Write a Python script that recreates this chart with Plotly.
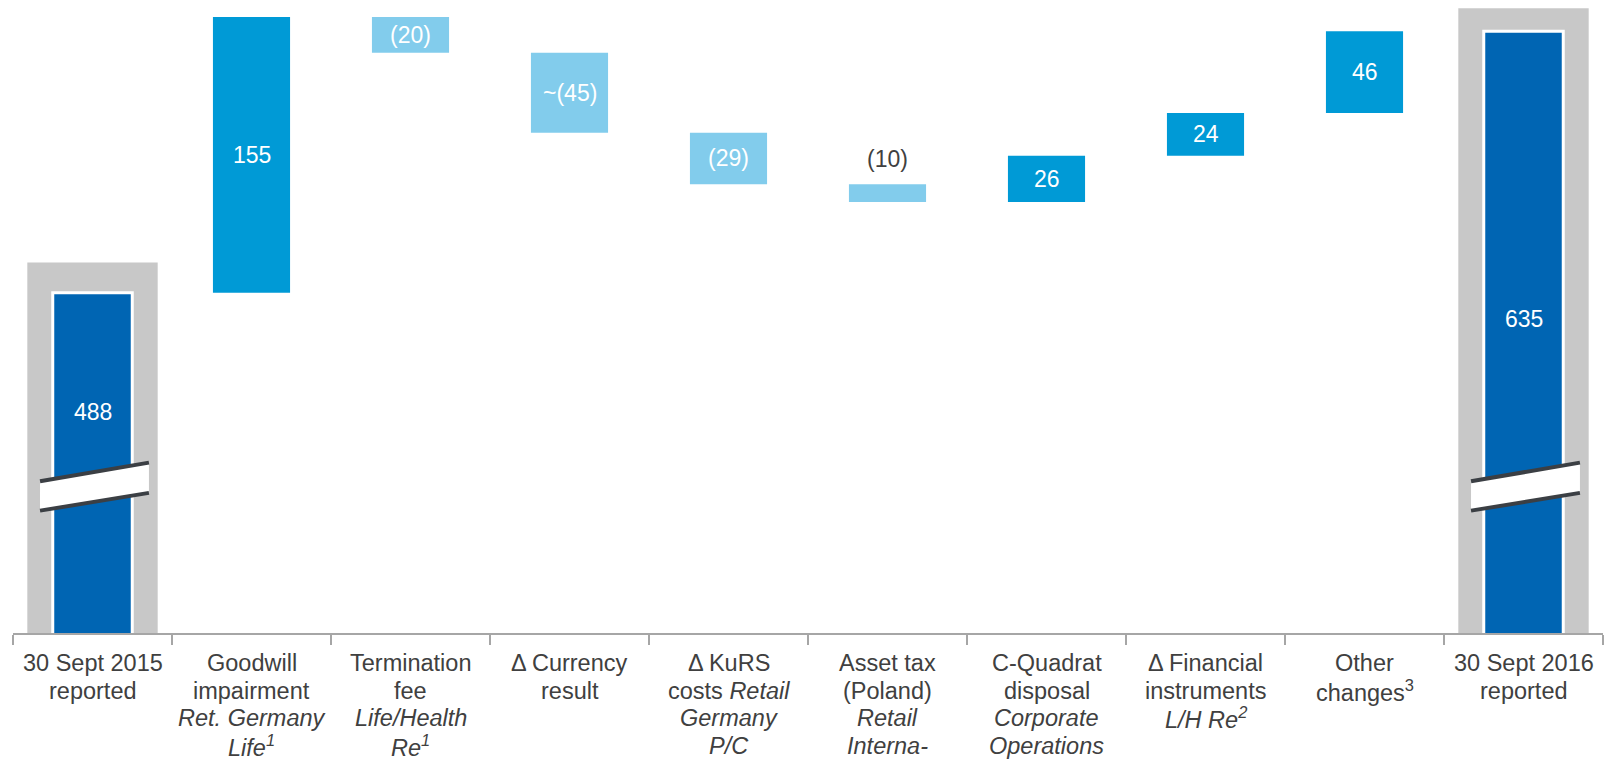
import plotly.graph_objects as go

# ---------------- data ----------------
D = "\u0394"
category_lines = [
    ["30 Sept 2015", "reported"],
    ["Goodwill", "impairment", "<i>Ret. Germany</i>", "<i>Life<sup>1</sup></i>"],
    ["Termination", "fee", "<i>Life/Health</i>", "<i>Re<sup>1</sup></i>"],
    [D + " Currency", "result"],
    [D + " KuRS", "costs <i>Retail</i>", "<i>Germany</i>", "<i>P/C</i>"],
    ["Asset tax", "(Poland)", "<i>Retail</i>", "<i>Interna-</i>"],
    ["C-Quadrat", "disposal", "<i>Corporate</i>", "<i>Operations</i>"],
    [D + " Financial", "instruments", "<i>L/H Re<sup>2</sup></i>"],
    ["Other", "changes<sup>3</sup>"],
    ["30 Sept 2016", "reported"],
]
start_total = 488
deltas = [155, -20, -45, -29, -10, 26, 24, 46]
end_total = 635
delta_labels = ["155", "(20)", "~(45)", "(29)", "(10)", "26", "24", "46"]
total_labels = ["488", "635"]

# ---------------- style ----------------
C_TOTAL = "#0065B3"
C_POS = "#009AD6"
C_NEG = "#82CCEC"
C_BOX = "#C8C8C8"
C_TEXT = "#404040"
C_AXIS = "#A6A6A6"
C_BREAK = "#3B3F44"
FONT = "Liberation Sans, Arial, sans-serif"
Y_MIN, Y_MAX = 296.7, 652.6
BOX_PAD = [17, 13]            # grey frame above total bars (value units)
TOTAL_LABEL_DROP = [67, 162]  # label position below bar top (value units)
LABEL_FIRST = 30              # px below axis to first label line centre
LABEL_STEP = 27.5             # px line spacing of category labels

n = len(category_lines)
xs = list(range(n))
total_idx = [0, n - 1]
totals = [start_total, end_total]

# floating bars computed from running sum
bases, lengths, colors = [], [], []
running = start_total
for d in deltas:
    new = running + d
    bases.append(min(running, new))
    lengths.append(abs(d))
    colors.append(C_POS if d > 0 else C_NEG)
    running = new

fig = go.Figure()

# grey frames behind totals
fig.add_trace(go.Bar(
    x=total_idx, y=[t + p for t, p in zip(totals, BOX_PAD)], base=0,
    width=0.82, marker=dict(color=C_BOX, line=dict(width=0)),
    hoverinfo="skip", showlegend=False,
))
# total bars
fig.add_trace(go.Bar(
    x=total_idx, y=totals, base=0, width=0.5,
    marker=dict(color=C_TOTAL, line=dict(color="white", width=3)),
    hoverinfo="skip", showlegend=False,
))
# floating delta bars
fig.add_trace(go.Bar(
    x=xs[1:-1], y=lengths, base=bases, width=0.485,
    marker=dict(color=colors, line=dict(width=0)),
    hoverinfo="skip", showlegend=False,
))

annotations = []
for i, t, lab, drop in zip(total_idx, totals, total_labels, TOTAL_LABEL_DROP):
    annotations.append(dict(x=i, y=t - drop, text=lab, showarrow=False,
                            font=dict(family=FONT, size=23, color="white")))
for i, (b, l, d, lab) in enumerate(zip(bases, lengths, deltas, delta_labels)):
    if abs(d) < 15:   # small bar: label above it
        annotations.append(dict(x=i + 1, y=b + l, text=lab, showarrow=False,
                                yanchor="bottom", yshift=10,
                                font=dict(family=FONT, size=23, color=C_TEXT)))
    else:             # label inside, centred
        annotations.append(dict(x=i + 1, y=b + l / 2, text=lab, showarrow=False,
                                yanchor="middle",
                                font=dict(family=FONT, size=23, color="white")))

# category labels under the axis (one text per line for tight line spacing)
for i, lines in enumerate(category_lines):
    for k, line in enumerate(lines):
        annotations.append(dict(x=i, xref="x", y=0, yref="paper", text=line,
                                showarrow=False, xanchor="center", yanchor="middle",
                                yshift=-(LABEL_FIRST + k * LABEL_STEP),
                                font=dict(family=FONT, size=23.5, color=C_TEXT)))

# axis-break markers on total bars
shapes = []
for i in total_idx:
    xl, xr = i - 0.33, i + 0.355
    top_l, top_r, bot_l, bot_r = 382, 392.5, 365.5, 375.5
    shapes.append(dict(type="path", xref="x", yref="y",
                       path=f"M{xl},{top_l} L{xr},{top_r} L{xr},{bot_r} L{xl},{bot_l} Z",
                       fillcolor="white", line=dict(width=0)))
    shapes.append(dict(type="line", xref="x", yref="y", x0=xl, y0=top_l, x1=xr, y1=top_r,
                       line=dict(color=C_BREAK, width=4)))
    shapes.append(dict(type="line", xref="x", yref="y", x0=xl, y0=bot_l, x1=xr, y1=bot_r,
                       line=dict(color=C_BREAK, width=4)))

fig.update_layout(
    width=1622, height=761,
    margin=dict(l=13, r=19, t=0, b=128, autoexpand=False),
    paper_bgcolor="white", plot_bgcolor="white",
    barmode="overlay",
    annotations=annotations, shapes=shapes,
    showlegend=False,
    xaxis=dict(
        automargin=False,
        range=[-0.5, n - 0.5],
        tickmode="array", tickvals=xs, showticklabels=False,
        ticks="",
        showline=True, linecolor=C_AXIS, linewidth=1.5,
        showgrid=False, zeroline=False,
        minor=dict(tickmode="array", tickvals=[k - 0.5 for k in range(n + 1)],
                   ticks="outside", ticklen=10, tickcolor=C_AXIS, tickwidth=1.5,
                   showgrid=False),
    ),
    yaxis=dict(automargin=False, range=[Y_MIN, Y_MAX], visible=False,
               showgrid=False, zeroline=False),
)

fig.write_html("out.html", config={"displayModeBar": False},
               post_script="document.body.style.margin='0';document.body.style.overflow='hidden';")
